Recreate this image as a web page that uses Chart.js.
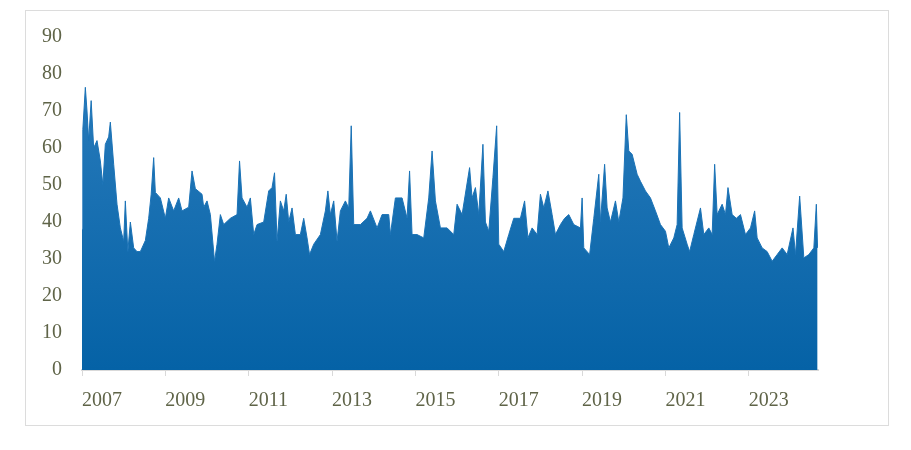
<!DOCTYPE html>
<html><head><meta charset="utf-8">
<script src="https://cdn.jsdelivr.net/npm/chart.js@4"></script>
<style>html,body{margin:0;padding:0;background:#fff}#w{position:relative;width:911px;height:450px}
#b{position:absolute;left:25px;top:10px;width:862px;height:414px;border:1px solid #dcdcdc}
canvas{position:absolute;left:0;top:0}</style></head><body>
<div id="w"><div id="b"></div><canvas id="c" width="911" height="450"></canvas></div>
<script>
const dates=[2007.0,2007.02,2007.08,2007.12,2007.16,2007.22,2007.28,2007.36,2007.44,2007.5,2007.56,2007.64,2007.68,2007.76,2007.84,2007.92,2008.0,2008.04,2008.1,2008.16,2008.24,2008.32,2008.4,2008.52,2008.6,2008.66,2008.72,2008.76,2008.88,2009.0,2009.08,2009.2,2009.32,2009.4,2009.56,2009.64,2009.72,2009.88,2009.92,2010.0,2010.08,2010.18,2010.24,2010.32,2010.4,2010.56,2010.72,2010.78,2010.84,2010.96,2011.04,2011.12,2011.2,2011.36,2011.48,2011.56,2011.62,2011.68,2011.76,2011.84,2011.9,2011.96,2012.04,2012.12,2012.24,2012.32,2012.4,2012.46,2012.56,2012.72,2012.84,2012.9,2012.96,2013.04,2013.12,2013.2,2013.32,2013.4,2013.46,2013.52,2013.68,2013.84,2013.92,2014.08,2014.2,2014.36,2014.4,2014.52,2014.68,2014.8,2014.86,2014.92,2015.04,2015.2,2015.32,2015.4,2015.48,2015.6,2015.76,2015.92,2016.0,2016.12,2016.3,2016.36,2016.44,2016.52,2016.62,2016.68,2016.76,2016.86,2016.95,2017.0,2017.12,2017.24,2017.36,2017.52,2017.62,2017.7,2017.8,2017.92,2018.0,2018.08,2018.18,2018.28,2018.36,2018.48,2018.58,2018.68,2018.8,2018.96,2019.0,2019.04,2019.18,2019.28,2019.4,2019.44,2019.54,2019.6,2019.68,2019.8,2019.88,2019.98,2020.06,2020.12,2020.2,2020.32,2020.4,2020.52,2020.64,2020.76,2020.88,2021.0,2021.08,2021.2,2021.28,2021.34,2021.4,2021.52,2021.58,2021.68,2021.84,2021.92,2022.04,2022.12,2022.18,2022.24,2022.36,2022.44,2022.5,2022.6,2022.7,2022.8,2022.92,2023.04,2023.14,2023.2,2023.32,2023.44,2023.56,2023.68,2023.8,2023.92,2024.06,2024.12,2024.22,2024.32,2024.44,2024.56,2024.62,2024.65];
const values=[38,65,76.4,70,62,72.8,60,62,56.5,50,61,63,67,55.6,44.8,38.4,34.8,45.7,32,40,33,32,32,35,41,47.5,57.4,48,46.5,41,46.5,43,46.5,43,44,53.8,49,47.5,44,45.7,42,29.4,34,42,39.3,41,42,56.5,46.5,44,46.5,36.6,39.3,40,48.4,49.3,53.3,34.8,45.7,43,47.5,40,43.8,36.6,36.6,41,35.7,31.2,34,36.6,43,48.4,42,45.7,34.8,43,45.7,43.8,66,39.3,39.3,41,43,38.4,42,42,36.6,46.5,46.5,41,53.8,36.6,36.6,35.7,46.5,59.2,45.7,38.4,38.4,36.6,44.8,42,54.7,46.5,49.3,42,61,40,37.5,52,66,34,32,36.6,41,41,45.7,35.7,38.4,36.6,47.5,43.8,48.4,42,36.6,39.3,41,42,39.3,38.4,46.5,33,31.2,41,52.9,40,55.6,43.8,40,45.7,40,46.5,69,59.2,58.3,52.9,51,48.4,46.5,43,39.3,37.5,33,35.7,39.3,69.6,38.4,34,32,36.6,43.8,36.6,38.4,36.6,55.6,42,44.8,42,49.3,42,41,42,36.6,38.4,43,35.7,33,32,29.4,31.2,33,31.2,38.4,31.2,47,30.3,31.2,33,44.8,33];
const xTicks=[2007,2009,2011,2013,2015,2017,2019,2021,2023];
const yTicks=[0,10,20,30,40,50,60,70,80,90];
const pts=dates.map((d,i)=>({x:d,y:values[i]}));
const ctx=document.getElementById('c').getContext('2d');
const grad=ctx.createLinearGradient(0,60,0,370);
grad.addColorStop(0,'#2a7cbc');grad.addColorStop(1,'#0562a6');
const font={family:'"Liberation Serif","Times New Roman",serif',size:20};
new Chart(ctx,{type:'line',data:{datasets:[{data:pts,fill:'origin',backgroundColor:grad,borderColor:'#1a72b6',borderWidth:1,pointRadius:0,tension:0}]},
options:{responsive:false,animation:false,layout:{padding:{top:37,right:93,left:0,bottom:0}},
plugins:{legend:{display:false},tooltip:{enabled:false}},
scales:{x:{type:'linear',min:2007,max:2024.66,afterBuildTicks:s=>{s.ticks=xTicks.map(v=>({value:v}))},afterFit:s=>{s.height=80},
ticks:{align:'start',color:'#5f6448',font,padding:13,maxRotation:0,autoSkip:false,callback:v=>String(v)},
grid:{drawOnChartArea:false,color:'#d9d9d9',tickLength:6},border:{color:'#d9d9d9',width:2}},
y:{min:0,max:90,afterBuildTicks:s=>{s.ticks=yTicks.map(v=>({value:v}))},afterFit:s=>{s.width=82;s.paddingTop=0;},
ticks:{color:'#5f6448',font,padding:20},grid:{display:false,drawTicks:false},border:{display:false}}}}});
</script></body></html>
